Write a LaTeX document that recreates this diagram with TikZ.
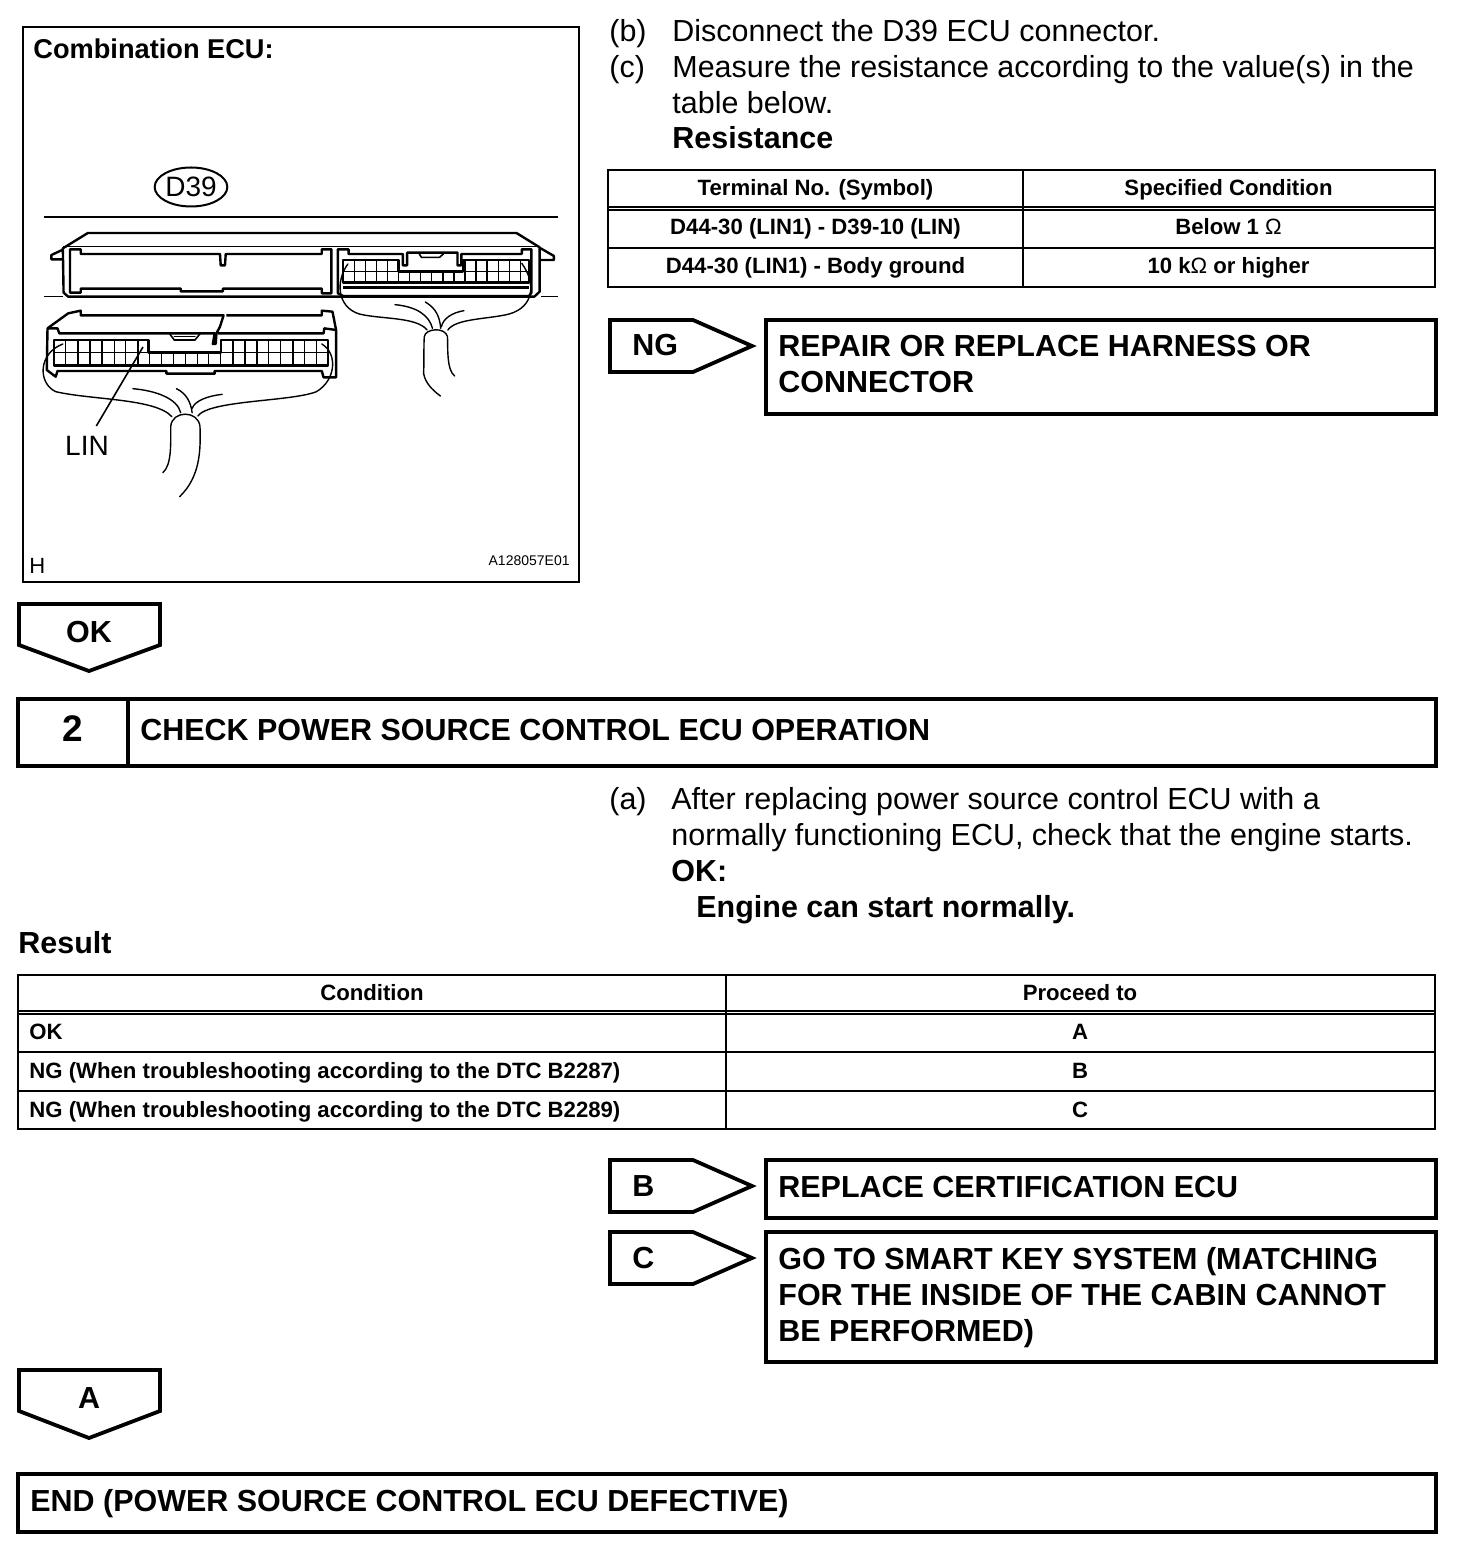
\documentclass[tikz,border=0pt]{standalone}
\usepackage{fontspec}
\setmainfont{Liberation Sans}
\usetikzlibrary{shapes.geometric,positioning}

\begin{document}
\begin{tikzpicture}[x=0.5pt,y=-0.5pt,
    bodytext/.style={anchor=base west,inner sep=0pt,font=\fontsize{15.23}{18}\selectfont},
    headtext/.style={anchor=base west,inner sep=0pt,font=\fontsize{15.23}{18}\selectfont\bfseries},
    celltext/.style={anchor=base,inner sep=0pt,font=\fontsize{11.08}{13}\selectfont\bfseries},
    lefttext/.style={celltext,anchor=base west},
    smalltext/.style={anchor=base west,inner sep=0pt,font=\fontsize{7}{8}\selectfont},
    rule/.style={draw,line width=1.1pt},
    heavy/.style={draw,line width=1.9pt,line join=miter},
    wire/.style={line width=0.7pt,line cap=round},
    housing/.style={line width=1.2pt,line join=round}]
    \useasboundingbox (0,0) rectangle (1456,1566);

    % illustration
    \draw[line width=1.1pt] (23,27) rectangle (579,582);
    \node[headtext,font=\fontsize{13.6}{15}\selectfont\bfseries] (title) at (33,59) {Combination ECU:};
    \node[smalltext,font=\fontsize{11}{13}\selectfont] (hmark) at (29,573) {H};
    \node[smalltext,anchor=base east] (code) at (570,566) {A128057E01};
    \node[draw,ellipse,line width=1pt,inner sep=0pt,minimum width=34pt,minimum height=19.5pt,
          font=\fontsize{14}{16}\selectfont] (d39) at (191,187) {D39};
    \draw[line width=0.8pt] (44,217) -- (558,217);

    % connectors, in crop coordinates
    \begin{scope}[shift={(20,160)},x=0.17857pt,y=-0.16667pt]
        \draw[line width=0.6pt] (68,409) -- (120,409) (1460,409) -- (1505,409);
        \draw[line width=0.5pt] (120,259) -- (1450,259);
        % upper housing
        \draw[housing] (120,265) -- (190,219) -- (1390,219) -- (1455,262) -- (1455,395) -- (1440,410) -- (135,410) -- (122,398) -- cycle;
        \draw[housing] (118,270) -- (88,285) -- (88,298) -- (118,298)
                       (1458,265) -- (1495,288) -- (1495,300) -- (1458,300);
        \draw[housing] (140,268) -- (170,268) -- (170,282) -- (560,282) -- (562,316) -- (574,316) -- (576,282)
                       -- (845,282) -- (845,268) -- (872,268) -- (872,400) -- (845,400) -- (845,386) -- (568,386)
                       -- (568,394) -- (450,394) -- (450,386) -- (170,386) -- (170,398) -- (140,398) -- cycle;
        \draw[housing] (890,268) -- (920,268) -- (920,282) -- (1072,282) -- (1072,316) -- (1084,316) -- (1084,278)
                       -- (1225,278) -- (1225,316) -- (1236,316) -- (1236,282) -- (1405,282) -- (1405,268) -- (1432,268)
                       -- (1432,398) -- (1425,408) -- (905,408) -- (890,400) -- cycle;
        \draw[wire,line width=0.8pt] (1118,282) -- (1124,292) -- (1175,292) -- (1185,282);
        % upper grid
        \draw[housing] (905,300) -- (1060,300) -- (1060,335) -- (1240,335) -- (1240,300) -- (1425,300) -- (1425,367) -- (905,367) -- cycle;
        \draw[wire] (905,335) -- (1060,335) (1240,335) -- (1425,335);
        \foreach \gx in {936,967,998,1029,1060,1091,1122,1153,1184,1215,1246,1277,1308,1339,1370,1401}
            \draw[wire] (\gx,335) -- (\gx,367);
        \foreach \gx in {936,967,998,1029,1246,1277,1308,1339,1370,1401}
            \draw[wire] (\gx,300) -- (\gx,335);
        \draw[housing] (905,382) -- (1425,382);
        % upper harness
        \draw[wire] (918,312) .. controls (885,360) and (885,440) .. (950,462)
            .. controls (1010,478) and (1110,470) .. (1140,510);
        \draw[wire] (1405,310) .. controls (1445,370) and (1440,440) .. (1370,462)
            .. controls (1310,478) and (1220,475) .. (1198,510);
        \draw[wire] (1050,434) .. controls (1110,440) and (1145,465) .. (1155,505);
        \draw[wire] (1135,426) .. controls (1165,445) and (1175,470) .. (1178,505);
        \draw[wire] (1243,452) .. controls (1210,458) and (1185,475) .. (1180,500);
        \draw[wire] (1130,640) .. controls (1132,600) and (1130,560) .. (1132,530) .. controls (1135,505) and (1190,500) .. (1197,530)
            .. controls (1198,570) and (1195,630) .. (1217,648);
        \draw[wire] (1130,640) .. controls (1135,670) and (1155,690) .. (1177,708);
        % lower housing
        \draw[housing] (77,505) -- (135,460) -- (170,452) -- (170,466) -- (570,466) -- (560,500) -- (550,520) -- (548,552) -- (540,552) -- (545,520)
                       -- (110,520) -- (105,505) -- (77,505) -- (75,630) -- (100,650) -- (105,633) -- (410,633) -- (410,641) -- (545,641)
                       -- (545,633) -- (845,633) -- (850,652) -- (885,652) -- (885,510) -- (875,455) -- (845,452) -- (845,466) -- (578,466);
        \draw[housing] (555,520) -- (850,520) -- (852,505) -- (885,510);
        \draw[wire,line width=0.8pt] (418,520) -- (432,540) -- (490,540) -- (505,520);
        \draw[wire] (432,530) -- (490,530);
        % lower grid
        \draw[housing] (95,540) -- (360,540) -- (360,578) -- (562,578) -- (562,540) -- (862,540) -- (862,617) -- (95,617) -- cycle;
        \draw[wire] (95,578) -- (360,578) (562,578) -- (862,578);
        \foreach \gx in {128,162,196,230,264,296,330,362,396,430,464,497,528,562,596,630,664,696,730,764,797,830}
            \draw[wire] (\gx,578) -- (\gx,617);
        \foreach \gx in {128,162,196,230,264,296,330,596,630,664,696,730,764,797,830}
            \draw[wire] (\gx,540) -- (\gx,578);
        % lower harness
        \draw[wire] (120,552) .. controls (50,580) and (50,670) .. (100,695)
            .. controls (200,720) and (380,715) .. (425,770);
        \draw[wire] (845,552) .. controls (890,580) and (885,660) .. (830,695)
            .. controls (760,725) and (530,720) .. (498,768);
        \draw[wire] (316,686) .. controls (380,692) and (440,715) .. (450,758);
        \draw[wire] (438,686) .. controls (465,700) and (478,725) .. (482,758);
        \draw[wire] (566,703) .. controls (525,708) and (490,722) .. (482,745);
        \draw[wire] (400,938) .. controls (425,915) and (422,850) .. (422,800) .. controls (425,750) and (500,750) .. (504,800)
            .. controls (506,870) and (505,950) .. (447,1010);
    \end{scope}
    \node[inner sep=5pt,font=\fontsize{14}{16}\selectfont] (lin) at (87,446) {LIN};
    \coordinate (lintip) at (143,347);
    \draw[line width=0.8pt] (lintip) -- (lin.65);

    % measuring steps
    \node[bodytext] (stepb) at (609,42) {(b)};
    \node[bodytext] (stepbtext) at (672,42) {Disconnect the D39 ECU connector.};
    \node[bodytext] (stepc) at (609,78) {(c)};
    \node[bodytext] (stepctext) at (672,78) {Measure the resistance according to the value(s) in the};
    \node[bodytext] (stepcmore) at (672,114) {table below.};
    \node[headtext] (resist) at (672,149) {Resistance};

    % resistance table
    \draw[rule] (608,170) rectangle (1435,287);
    \draw[rule] (608,207) -- (1435,207) (608,210) -- (1435,210) (608,248) -- (1435,248) (1023,170) -- (1023,287);
    \node[celltext] (tha) at (815.5,196) {Terminal No. (Symbol)};
    \node[celltext] (thb) at (1228.5,196) {Specified Condition};
    \node[celltext] (ra) at (815.5,235) {D44-30 (LIN1) - D39-10 (LIN)};
    \node[celltext] (rav) at (1228.5,235) {Below 1 {\normalfont Ω}};
    \node[celltext] (rb) at (815.5,274) {D44-30 (LIN1) - Body ground};
    \node[celltext] (rbv) at (1228.5,274) {10 k{\normalfont Ω} or higher};

    % NG branch
    \draw[heavy] (610,320) -- (693,320) -- (752,346) -- (693,372) -- (610,372) -- cycle;
    \node[headtext] (ng) at (632,356) {NG};
    \draw[heavy] (766,320) rectangle (1436,414);
    \node[headtext] (ngtext) at (778,357) {REPAIR OR REPLACE HARNESS OR};
    \node[headtext] (ngmore) at (778,393) {CONNECTOR};

    % OK branch
    \draw[heavy] (19,604) -- (160,604) -- (160,645) -- (89,671) -- (19,645) -- cycle;
    \node[headtext,anchor=base] (ok) at (89,642) {OK};

    % step 2
    \draw[heavy] (18,699) rectangle (1436,766);
    \draw[heavy] (128,699) -- (128,766);
    \node[headtext,anchor=base,font=\fontsize{18.5}{20}\selectfont\bfseries] (num) at (73,741) {2};
    \node[headtext] (check) at (140,740) {CHECK POWER SOURCE CONTROL ECU OPERATION};
    \node[bodytext] (stepa) at (609,809) {(a)};
    \node[bodytext] (stepatext) at (671,809) {After replacing power source control ECU with a};
    \node[bodytext] (stepamore) at (671,845) {normally functioning ECU, check that the engine starts.};
    \node[headtext] (okhead) at (671,881) {OK:};
    \node[headtext] (okbody) at (696,917) {Engine can start normally.};
    \node[headtext] (result) at (18,953) {Result};

    % result table
    \draw[rule] (18,975) rectangle (1435,1129);
    \draw[rule] (18,1011) -- (1435,1011) (18,1014) -- (1435,1014) (18,1052) -- (1435,1052) (18,1091) -- (1435,1091) (726,975) -- (726,1129);
    \node[celltext] (cond) at (372,1000) {Condition};
    \node[celltext] (proceed) at (1080,1000) {Proceed to};
    \node[lefttext] (oka) at (29,1039) {OK};
    \node[celltext] (aa) at (1080,1039) {A};
    \node[lefttext] (ngb) at (29,1078) {NG (When troubleshooting according to the DTC B2287)};
    \node[celltext] (bb) at (1080,1078) {B};
    \node[lefttext] (ngc) at (29,1117) {NG (When troubleshooting according to the DTC B2289)};
    \node[celltext] (cc) at (1080,1117) {C};

    % B and C branches
    \draw[heavy] (610,1160) -- (693,1160) -- (752,1186) -- (693,1212) -- (610,1212) -- cycle;
    \node[headtext] (bmark) at (632,1196) {B};
    \draw[heavy] (766,1160) rectangle (1436,1218);
    \node[headtext] (btext) at (778,1197) {REPLACE CERTIFICATION ECU};
    \draw[heavy] (610,1232) -- (693,1232) -- (752,1258) -- (693,1284) -- (610,1284) -- cycle;
    \node[headtext] (cmark) at (632,1268) {C};
    \draw[heavy] (766,1232) rectangle (1436,1362);
    \node[headtext] (ctext) at (778,1269) {GO TO SMART KEY SYSTEM (MATCHING};
    \node[headtext] (cmore) at (778,1305) {FOR THE INSIDE OF THE CABIN CANNOT};
    \node[headtext] (clast) at (778,1341) {BE PERFORMED)};

    % A branch and end
    \draw[heavy] (19,1370) -- (160,1370) -- (160,1411) -- (89,1438) -- (19,1411) -- cycle;
    \node[headtext,anchor=base] (amark) at (89,1408) {A};
    \draw[heavy] (18,1474) rectangle (1436,1532);
    \node[headtext] (endtext) at (30,1511) {END (POWER SOURCE CONTROL ECU DEFECTIVE)};
\end{tikzpicture}
\end{document}
